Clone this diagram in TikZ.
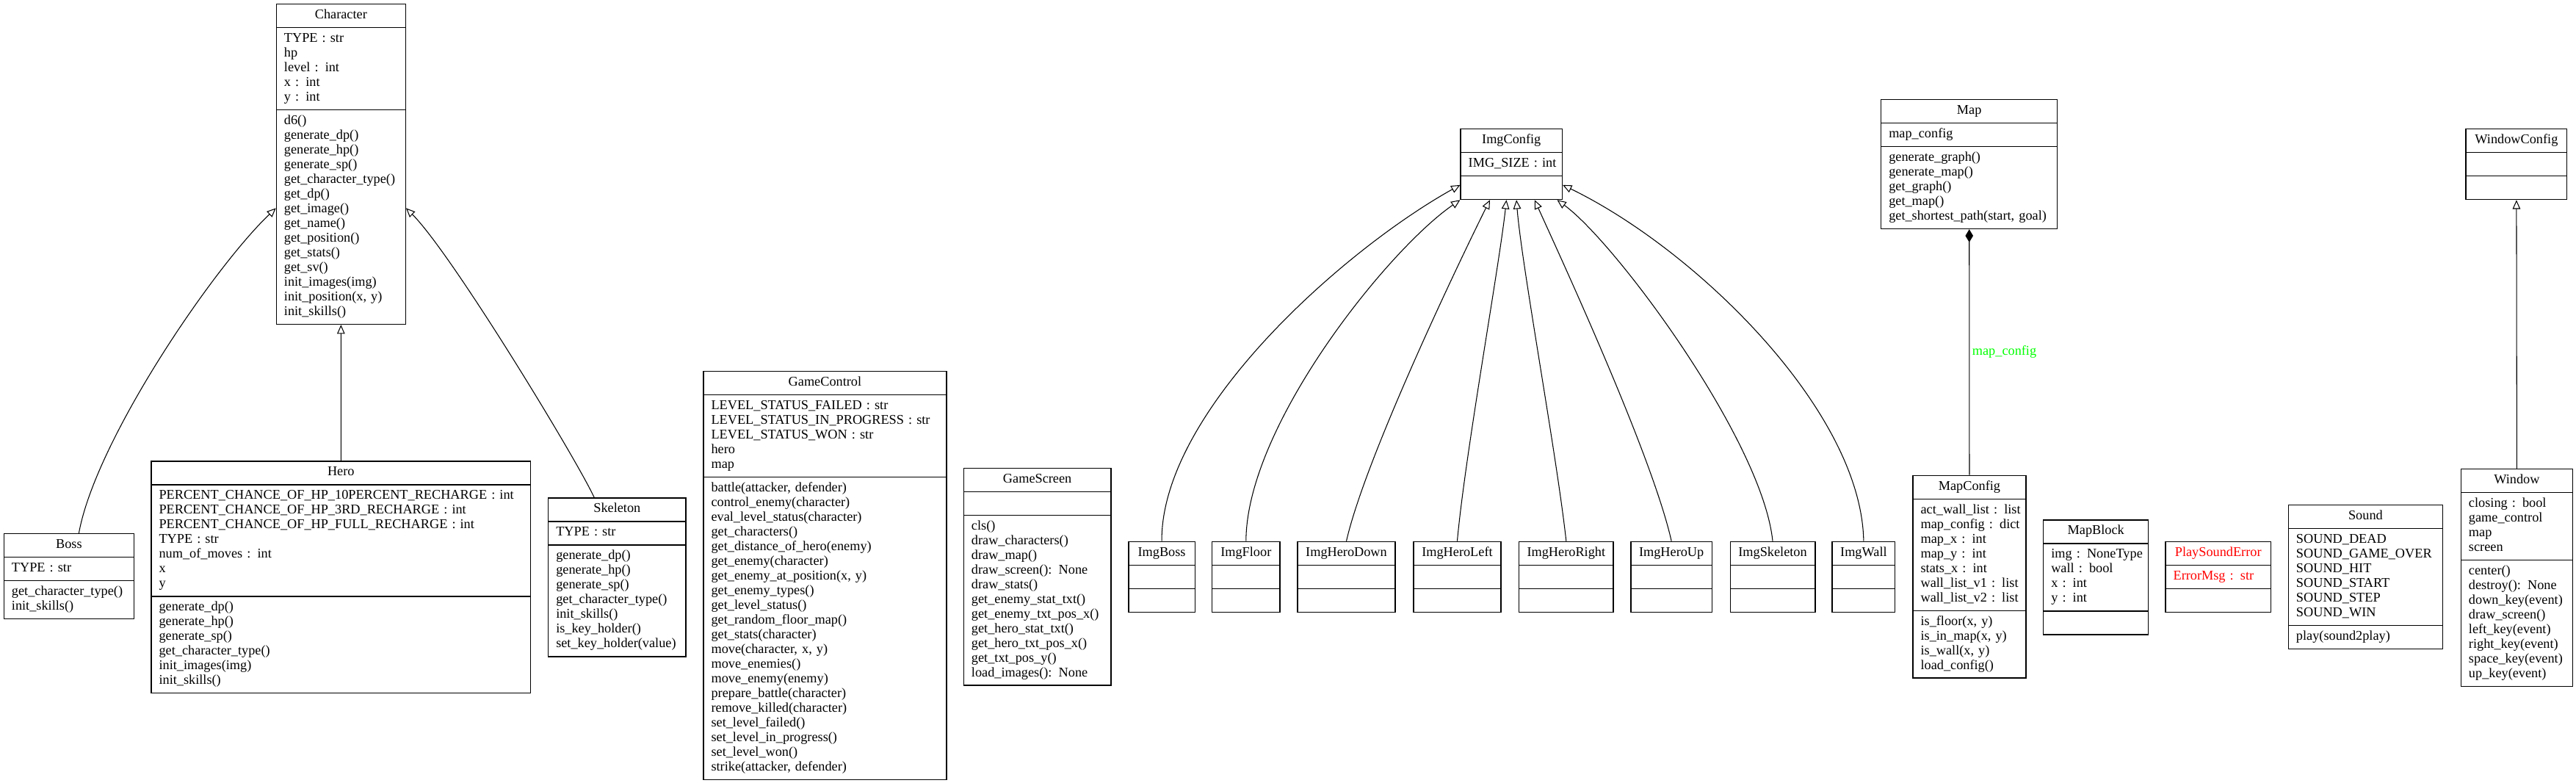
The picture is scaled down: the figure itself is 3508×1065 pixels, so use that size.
\documentclass[tikz,border=0pt]{standalone}
\usepackage{fontspec}
\setmainfont{Liberation Serif}
\usepackage{tikz}
\usetikzlibrary{shapes.multipart, arrows.meta}
\setlength{\parindent}{0pt}
\newcommand{\members}[1]{\begin{tabular}{@{}l@{}}#1\end{tabular}}
\newcommand{\clsname}[1]{\makebox[\linewidth][c]{\strut #1}}

\begin{document}
\begin{tikzpicture}[x=0.02cm, y=-0.02cm,
  umlclass/.style={rectangle split, rectangle split parts=3, draw, line width=0.8pt,
    anchor=north west, inner xsep=6pt, inner ysep=3pt,
    font=\fontsize{10.4}{11.38}\selectfont, text width=#1},
  inherit/.style={-{Triangle[open, length=7pt, width=6pt]}, line width=0.6pt},
  owns/.style={{Diamond[length=10pt, width=6pt]}-, line width=0.6pt},
  edgelabel/.style={font=\fontsize{10.4}{11.38}\selectfont, text=green, inner sep=2pt}]
\useasboundingbox (0,0) rectangle (3508,1065);
\fill[white] (0,0) rectangle (3508,1065);

% Character hierarchy
\node[umlclass=88.1pt] (character) at (375.7,5) {\clsname{Character}
  \nodepart{two}\members{TYPE : str\\ hp\\ level : int\\ x : int\\ y : int}
  \nodepart{three}\members{d6()\\ generate\_dp()\\ generate\_hp()\\ generate\_sp()\\ get\_character\_type()\\ get\_dp()\\ get\_image()\\ get\_name()\\ get\_position()\\ get\_stats()\\ get\_sv()\\ init\_images(img)\\ init\_position(x, y)\\ init\_skills()}};
\node[umlclass=88.7pt] (boss) at (4.7,726) {\clsname{Boss}
  \nodepart{two}\members{TYPE : str}
  \nodepart{three}\members{get\_character\_type()\\ init\_skills()}};
\node[umlclass=282pt] (hero) at (205.3,627.3) {\clsname{Hero}
  \nodepart{two}\members{PERCENT\_CHANCE\_OF\_HP\_10PERCENT\_RECHARGE : int\\ PERCENT\_CHANCE\_OF\_HP\_3RD\_RECHARGE : int\\ PERCENT\_CHANCE\_OF\_HP\_FULL\_RECHARGE : int\\ TYPE : str\\ num\_of\_moves : int\\ x\\ y}
  \nodepart{three}\members{generate\_dp()\\ generate\_hp()\\ generate\_sp()\\ get\_character\_type()\\ init\_images(img)\\ init\_skills()}};
\node[umlclass=94.6pt] (skeleton) at (746,677.3) {\clsname{Skeleton}
  \nodepart{two}\members{TYPE : str}
  \nodepart{three}\members{generate\_dp()\\ generate\_hp()\\ generate\_sp()\\ get\_character\_type()\\ init\_skills()\\ is\_key\_holder()\\ set\_key\_holder(value)}};

\draw[inherit] (hero.north) -- (character.south);
\draw[inherit] (boss.77) .. controls (130,600) and (290,365) .. (character.214);
\draw[inherit] (skeleton.106) .. controls (785,625) and (615,345) .. (character.326);

% game classes
\node[umlclass=176.3pt] (gamecontrol) at (957.3,505) {\clsname{GameControl}
  \nodepart{two}\members{LEVEL\_STATUS\_FAILED : str\\ LEVEL\_STATUS\_IN\_PROGRESS : str\\ LEVEL\_STATUS\_WON : str\\ hero\\ map}
  \nodepart{three}\members{battle(attacker, defender)\\ control\_enemy(character)\\ eval\_level\_status(character)\\ get\_characters()\\ get\_distance\_of\_hero(enemy)\\ get\_enemy(character)\\ get\_enemy\_at\_position(x, y)\\ get\_enemy\_types()\\ get\_level\_status()\\ get\_random\_floor\_map()\\ get\_stats(character)\\ move(character, x, y)\\ move\_enemies()\\ move\_enemy(enemy)\\ prepare\_battle(character)\\ remove\_killed(character)\\ set\_level\_failed()\\ set\_level\_in\_progress()\\ set\_level\_won()\\ strike(attacker, defender)}};
\node[umlclass=102.1pt] (gamescreen) at (1311.7,636.7) {\clsname{GameScreen}
  \nodepart{two}\strut
  \nodepart{three}\members{cls()\\ draw\_characters()\\ draw\_map()\\ draw\_screen(): None\\ draw\_stats()\\ get\_enemy\_stat\_txt()\\ get\_enemy\_txt\_pos\_x()\\ get\_hero\_stat\_txt()\\ get\_hero\_txt\_pos\_x()\\ get\_txt\_pos\_y()\\ load\_images(): None}};

% image classes
\node[umlclass=66.7pt] (imgconfig) at (1988.4,175) {\clsname{ImgConfig}
  \nodepart{two}\members{IMG\_SIZE : int}
  \nodepart{three}\strut};
\node[umlclass=39.5pt] (imgboss) at (1536.1,736.7) {\clsname{ImgBoss}\nodepart{two}\strut\nodepart{three}\strut};
\node[umlclass=40.7pt] (imgfloor) at (1649.8,736.7) {\clsname{ImgFloor}\nodepart{two}\strut\nodepart{three}\strut};
\node[umlclass=63.8pt] (imgherodown) at (1766.2,736.7) {\clsname{ImgHeroDown}\nodepart{two}\strut\nodepart{three}\strut};
\node[umlclass=55.9pt] (imgheroleft) at (1924.1,736.7) {\clsname{ImgHeroLeft}\nodepart{two}\strut\nodepart{three}\strut};
\node[umlclass=61.1pt] (imgheroright) at (2067.9,736.7) {\clsname{ImgHeroRight}\nodepart{two}\strut\nodepart{three}\strut};
\node[umlclass=51pt] (imgheroup) at (2220.1,736.7) {\clsname{ImgHeroUp}\nodepart{two}\strut\nodepart{three}\strut};
\node[umlclass=53.8pt] (imgskeleton) at (2355.5,736.7) {\clsname{ImgSkeleton}\nodepart{two}\strut\nodepart{three}\strut};
\node[umlclass=36.7pt] (imgwall) at (2494.4,736.7) {\clsname{ImgWall}\nodepart{two}\strut\nodepart{three}\strut};

\draw[inherit] (imgboss.north) .. controls (1581,560) and (1830,340) .. (imgconfig.202);
\draw[inherit] (imgfloor.north) .. controls (1697,580) and (1890,340) .. (imgconfig.south west);
\draw[inherit] (imgherodown.north) .. controls (1860,620) and (1995,340) .. (imgconfig.239);
\draw[inherit] (imgheroleft.north) .. controls (1995,620) and (2042,360) .. (imgconfig.262);
\draw[inherit] (imgheroright.north) .. controls (2120,620) and (2072,360) .. (imgconfig.278);
\draw[inherit] (imgheroup.north) .. controls (2250,620) and (2125,350) .. (imgconfig.303);
\draw[inherit] (imgskeleton.north) .. controls (2400,600) and (2200,330) .. (imgconfig.322);
\draw[inherit] (imgwall.north) .. controls (2535,560) and (2310,340) .. (imgconfig.338);

% map classes
\node[umlclass=124.6pt] (map) at (2561,135) {\clsname{Map}
  \nodepart{two}\members{map\_config}
  \nodepart{three}\members{generate\_graph()\\ generate\_map()\\ get\_graph()\\ get\_map()\\ get\_shortest\_path(start, goal)}};
\node[umlclass=75.6pt] (mapconfig) at (2604.3,646.7) {\clsname{MapConfig}
  \nodepart{two}\members{act\_wall\_list : list\\ map\_config : dict\\ map\_x : int\\ map\_y : int\\ stats\_x : int\\ wall\_list\_v1 : list\\ wall\_list\_v2 : list}
  \nodepart{three}\members{is\_floor(x, y)\\ is\_in\_map(x, y)\\ is\_wall(x, y)\\ load\_config()}};
\node[umlclass=69.4pt] (mapblock) at (2782,707.3) {\clsname{MapBlock}
  \nodepart{two}\members{img : NoneType\\ wall : bool\\ x : int\\ y : int}
  \nodepart{three}\strut};

\draw[owns] (map.south) -- node[edgelabel, right] (cfglabel) {map\_config} (mapconfig.north);

% sound and window
\node[umlclass=69.6pt, text=red] (playsounderror) at (2948.3,736.7) {\clsname{PlaySoundError}
  \nodepart{two}\members{ErrorMsg : str}
  \nodepart{three}\strut};
\node[umlclass=107.5pt] (sound) at (3115.7,686.7) {\clsname{Sound}
  \nodepart{two}\members{SOUND\_DEAD\\ SOUND\_GAME\_OVER\\ SOUND\_HIT\\ SOUND\_START\\ SOUND\_STEP\\ SOUND\_WIN}
  \nodepart{three}\members{play(sound2play)}};
\node[umlclass=66.4pt] (windowconfig) at (3357.3,175) {\clsname{WindowConfig}
  \nodepart{two}\strut
  \nodepart{three}\strut};
\node[umlclass=74.5pt] (window) at (3350.7,638) {\clsname{Window}
  \nodepart{two}\members{closing : bool\\ game\_control\\ map\\ screen}
  \nodepart{three}\members{center()\\ destroy(): None\\ down\_key(event)\\ draw\_screen()\\ left\_key(event)\\ right\_key(event)\\ space\_key(event)\\ up\_key(event)}};

\draw[inherit] (window.north) -- (windowconfig.south);
\end{tikzpicture}
\end{document}
